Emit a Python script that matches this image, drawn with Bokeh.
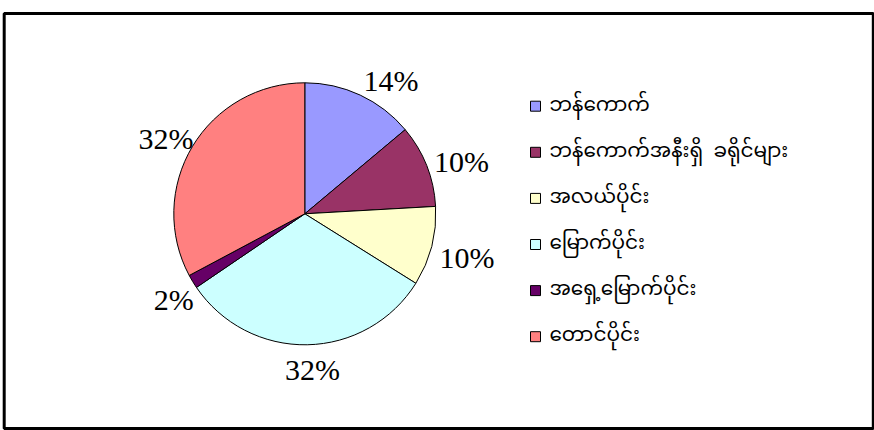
import numpy as np
from bokeh.plotting import figure
from bokeh.models import ColumnDataSource, Range1d
from bokeh.core.properties import value
from bokeh.embed import file_html
from bokeh.resources import INLINE

# ---- data ----
categories = ["ဘန်ကောက်", "ဘန်ကောက်အနီးရှိ\u00a0\u00a0ခရိုင်များ", "အလယ်ပိုင်း",
              "မြောက်ပိုင်း", "အရှေ့မြောက်ပိုင်း", "တောင်ပိုင်း"]
shares = [13.9, 10.2, 9.8, 31.6, 1.7, 32.8]
pct_labels = ["14%", "10%", "10%", "32%", "2%", "32%"]
colors = ["#9999FF", "#993366", "#FFFFCC", "#CCFFFF", "#660066", "#FF8080"]

W, H = 874, 430
p = figure(width=W, height=H, x_range=Range1d(0, W), y_range=Range1d(0, H),
           output_backend="svg", toolbar_location=None, min_border=0,
           x_axis_type=None, y_axis_type=None)
p.grid.visible = False
p.outline_line_color = None
p.background_fill_color = "white"
p.border_fill_color = "white"

# outer frame
p.quad(left=[3.7], right=[872.8], bottom=[H - 428], top=[H - 13],
       fill_color=None, line_color="black", line_width=3)

# pie
cx, cy, R = 304.3, H - 213.3, 131
vals = np.array(shares, dtype=float)
ang = 2 * np.pi * vals / vals.sum()
cum = np.cumsum(ang)
start = np.pi / 2 - (cum - ang)
end = np.pi / 2 - cum
src = ColumnDataSource(dict(start=start, end=end, color=colors, cat=categories))
p.wedge(x=cx, y=cy, radius=R, radius_units="screen", start_angle="start",
        end_angle="end", direction="clock", fill_color="color",
        line_color="black", line_width=1, source=src)

# percentage labels (placed just outside each slice's middle)
mid = (start + end) / 2
rl = R + 8
px = cx + rl * np.cos(mid)
py = cy + rl * np.sin(mid)
fx = np.clip(np.cos(mid) / 0.4, -1, 1)
fy = np.clip(np.sin(mid) / 0.7, -1, 1)
fs = 30
wts = np.array([fs * (0.5 * (len(t) - 1) + 0.833) for t in pct_labels])
ht = 24
lx = px + fx * wts / 2 + 4 * (1 - fx)
ly = py + fy * ht / 2 - 5
p.text(x=lx, y=ly, text=pct_labels, text_align="center", text_baseline="middle",
       text_font=value("Liberation Serif"), text_font_size=f"{fs}px",
       text_color="black")

# legend
n = len(categories)
gy = np.array([H - (105.7 + i * 46.1) for i in range(n)])
gx = np.full(n, 535.0)
p.rect(x=gx, y=gy, width=10, height=10, width_units="screen", height_units="screen",
       fill_color=colors, line_color="black", line_width=1)
p.text(x=gx + 14, y=gy, text=categories, text_align="left", text_baseline="middle",
       text_font=value("Noto Sans Myanmar"), text_font_size="20px", text_color="black")

open("out.html", "w").write(file_html(p, INLINE))
